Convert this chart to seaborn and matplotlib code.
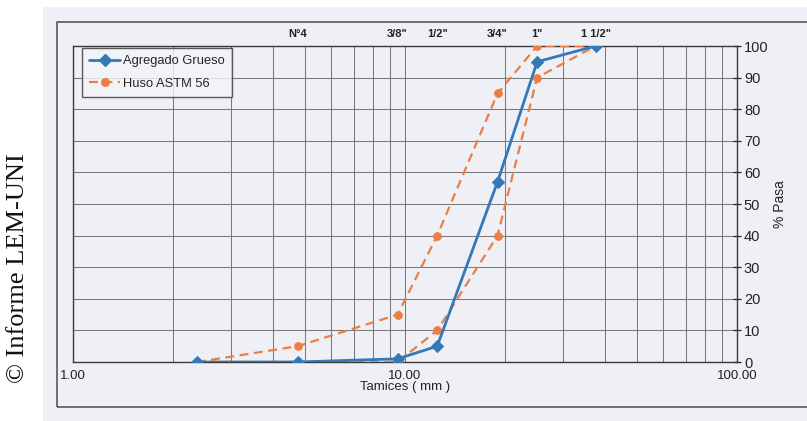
import matplotlib
matplotlib.use("Agg")
import matplotlib.pyplot as plt
from matplotlib.patches import Rectangle
from matplotlib.lines import Line2D
from matplotlib.ticker import FixedLocator, FixedFormatter, LogLocator, NullFormatter
import seaborn as sns
import pandas as pd
import numpy as np

# ---- data ----
tamices_mm = [2.36, 4.75, 9.5, 12.5, 19.0, 25.0, 37.5]
agregado_grueso = [0, 0, 1, 5, 57, 95, 100]
huso_superior = [0, 5, 15, 40, 85, 100, 100]
huso_inferior = [0, 0, 0, 10, 40, 90, 100]

sieve_sizes = [4.75, 9.5, 12.5, 19.0, 25.0, 37.5]
sieve_labels = ["N°4", "3/8\"", "1/2\"", "3/4\"", "1\"", "1 1/2\""]
x_ticks = [1, 10, 100]
x_ticklabels = ["1.00", "10.00", "100.00"]
y_ticks = [0, 10, 20, 30, 40, 50, 60, 70, 80, 90, 100]

sns.set_theme(style="white")
plt.rcParams["font.family"] = ["Liberation Sans", "DejaVu Sans"]

W, H = 807, 421
fig = plt.figure(figsize=(W / 100, H / 100), dpi=100)
fig.patch.set_facecolor("white")

def fx(px):
    return px / W

def fy(py):
    return 1 - py / H

# scanned sheet background
fig.patches.append(Rectangle((fx(43), 0), 1, fy(7), transform=fig.transFigure,
                             facecolor="#eef0f5", edgecolor="none", zorder=0))
# outer chart frame
fig.patches.append(Rectangle((fx(57), fy(407)), 1, (407 - 22) / H, transform=fig.transFigure,
                             facecolor="none", edgecolor="#4a4a4a", lw=1.1, zorder=1))

ax = fig.add_axes([fx(73), fy(362), (737 - 73) / W, (362 - 46) / H])
ax.set_facecolor("none")
ax.set_zorder(2)

blue = "#3478b8"
orange = "#ec7d45"

df_ag = pd.DataFrame({"x": tamices_mm, "y": agregado_grueso})
df_sup = pd.DataFrame({"x": tamices_mm, "y": huso_superior})
df_inf = pd.DataFrame({"x": tamices_mm, "y": huso_inferior})

for d in (df_sup, df_inf):
    sns.lineplot(data=d, x="x", y="y", ax=ax, color=orange, sort=False, estimator=None,
                 linestyle=(0, (4, 2.5)), lw=1.6, marker="o", markersize=5.5,
                 markeredgecolor=orange, zorder=3)
sns.lineplot(data=df_ag, x="x", y="y", ax=ax, color=blue, sort=False, estimator=None,
             lw=2.0, marker="D", markersize=6, markeredgecolor=blue, zorder=4)

ax.set_xscale("log")
ax.set_xlim(1, 100)
ax.set_ylim(0, 100)

ax.xaxis.set_major_locator(FixedLocator(x_ticks))
ax.xaxis.set_major_formatter(FixedFormatter(x_ticklabels))
ax.xaxis.set_minor_locator(LogLocator(base=10, subs=np.arange(2, 10)))
ax.xaxis.set_minor_formatter(NullFormatter())
ax.tick_params(axis="x", which="both", length=0, labelsize=9.5, pad=6, colors="#222222")

ax.yaxis.tick_right()
ax.yaxis.set_label_position("right")
ax.set_yticks(y_ticks)
ax.tick_params(axis="y", which="major", direction="inout", length=6, width=0.9,
               labelsize=10.5, pad=2, colors="#222222")

ax.grid(True, which="major", axis="both", color="#7a7a7a", lw=0.75)
ax.grid(True, which="minor", axis="x", color="#7a7a7a", lw=0.75)

for s in ax.spines.values():
    s.set_visible(True)
    s.set_color("#3a3a3a")
    s.set_linewidth(1.0)

ax.set_xlabel("Tamices ( mm )", fontsize=9.5, labelpad=-1, color="#222222")
ax.set_ylabel("% Pasa", fontsize=10, labelpad=3, color="#222222")

sec = ax.secondary_xaxis("top")
sec.set_xticks(sieve_sizes)
sec.set_xticklabels(sieve_labels, fontweight="semibold")
sec.tick_params(axis="x", which="both", length=0, labelsize=8, pad=5, colors="#222222")
sec.xaxis.set_minor_locator(FixedLocator([]))
sec.spines["top"].set_visible(False)

handles = [
    Line2D([], [], color=blue, lw=2.0, marker="D", markersize=6),
    Line2D([], [], color=orange, lw=1.6, linestyle=(0, (4, 2.5)), marker="o", markersize=5.5),
]
leg = ax.legend(handles, ["Agregado Grueso", "Huso ASTM 56"], loc="upper left",
                bbox_to_anchor=(0.013, 0.995), frameon=True, fancybox=False,
                fontsize=9.3, handlelength=2.4, handletextpad=0.2, borderpad=0.6,
                labelspacing=0.8, borderaxespad=0)
leg.get_frame().set_edgecolor("#333333")
leg.get_frame().set_linewidth(1.0)
leg.get_frame().set_facecolor("#f4f5f8")
leg.set_zorder(5)

fig.text(fx(18), fy(268), "© Informe LEM-UNI", rotation=90, ha="center", va="center",
         fontsize=19, family=["Liberation Serif", "DejaVu Serif"], color="#111111")

fig.savefig("out.png", dpi=100)
